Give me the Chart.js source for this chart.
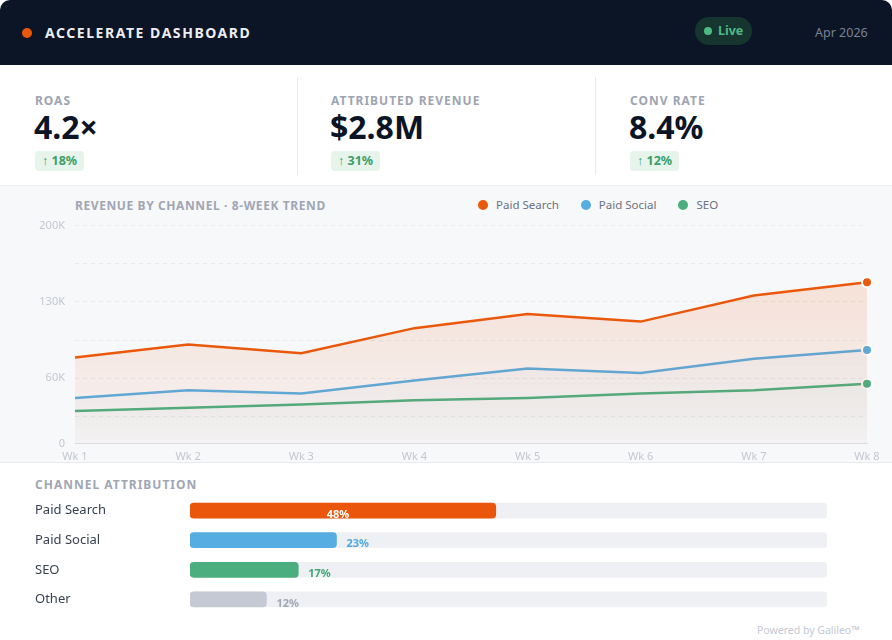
<!DOCTYPE html>
<html>
<head>
<meta charset="utf-8">
<script src="https://cdn.jsdelivr.net/npm/chart.js@4.4.1/dist/chart.umd.min.js"></script>
<style>
    html, body { margin: 0; padding: 0; background: #ffffff; }
    body { width: 892px; height: 640px; position: relative; overflow: hidden;
           font-family: 'Noto Sans', 'Open Sans', sans-serif; }

    .header { position: absolute; left: 0; top: 0; width: 892px; height: 65px;
              background: #0b1526; border-radius: 10px 10px 0 0; }
    .brand-dot { position: absolute; left: 22px; top: 28px; width: 10px; height: 10px;
                 border-radius: 50%; background: #ea580c; }
    .brand { position: absolute; left: 45px; top: 24px; font-size: 14px; line-height: 18px;
             font-weight: 700; letter-spacing: 1.55px; color: #eceef3; }
    .live { position: absolute; left: 695px; top: 17px; width: 57px; height: 28px;
            border-radius: 14px; background: #16352f; }
    .live-dot { position: absolute; left: 9px; top: 10px; width: 8px; height: 8px;
                border-radius: 50%; background: #4cbb85; }
    .live span { position: absolute; left: 23px; top: 5px; font-size: 12.5px; line-height: 18px;
                 font-weight: 700; color: #4cbb85; }
    .date { position: absolute; left: 815px; top: 24px; font-size: 12.5px; line-height: 18px;
            color: #7a8294; }

    .kpi { position: absolute; top: 65px; height: 120px; width: 297px; }
    .kpi .lbl { position: absolute; left: 35px; top: 28px; font-size: 12px; line-height: 16px;
                font-weight: 700; letter-spacing: 1px; color: #9ea4b1; }
    .kpi .val { position: absolute; left: 34px; top: 42px; font-size: 32px; line-height: 40px;
                font-weight: 700; color: #0b1526; }
    .kpi .badge { position: absolute; left: 35px; top: 86px; height: 20px; padding: 0 7px;
                  border-radius: 4px; background: #e6f4ec; color: #3a9f68;
                  font-size: 12.5px; line-height: 20px; font-weight: 700; }
    .divider { position: absolute; top: 77px; width: 1px; height: 98px; background: #e8eaee; }

    .trend { position: absolute; left: 0; top: 185px; width: 892px; height: 276px;
             background: #f7f8fa; border-top: 1px solid #eceef1; border-bottom: 1px solid #e8eaee; }
    .trend-title { position: absolute; left: 75px; top: 12px; font-size: 12px; line-height: 16px;
                   font-weight: 700; letter-spacing: 0.6px; color: #a0a6b3; }
    .legend { position: absolute; left: 478px; top: 11px; font-size: 11.5px; line-height: 16px;
              color: #6b7280; white-space: nowrap; }
    .legend .item { display: inline-block; margin-right: 22px; }
    .legend i { display: inline-block; width: 10px; height: 10px; border-radius: 50%;
                margin-right: 8px; vertical-align: -1px; }
    #trendWrap { position: absolute; left: 0; top: 23px; width: 892px; height: 260px; }

    .attr-title { position: absolute; left: 35px; top: 477px; font-size: 12px; line-height: 16px;
                  font-weight: 700; letter-spacing: 1px; color: #a0a6b3; }
    #attrWrap { position: absolute; left: 0; top: 488px; width: 892px; height: 134px; }
    .powered { position: absolute; left: 757px; top: 623px; font-size: 10.5px; line-height: 14px;
               color: #c4c8d2; }
</style>
</head>
<body>

<div class="header">
    <div class="brand-dot"></div>
    <div class="brand">ACCELERATE DASHBOARD</div>
    <div class="live"><div class="live-dot"></div><span>Live</span></div>
    <div class="date">Apr 2026</div>
</div>

<div class="kpi" style="left:0"><div class="lbl">ROAS</div><div class="val">4.2×</div><div class="badge">↑ 18%</div></div>
<div class="divider" style="left:297px"></div>
<div class="kpi" style="left:296px"><div class="lbl">ATTRIBUTED REVENUE</div><div class="val">$2.8M</div><div class="badge">↑ 31%</div></div>
<div class="divider" style="left:595px"></div>
<div class="kpi" style="left:595px"><div class="lbl">CONV RATE</div><div class="val">8.4%</div><div class="badge">↑ 12%</div></div>

<div class="trend">
    <div class="trend-title">REVENUE BY CHANNEL · 8-WEEK TREND</div>
    <div class="legend" id="legend"></div>
    <div id="trendWrap"><canvas id="trendChart"></canvas></div>
</div>

<div class="attr-title">CHANNEL ATTRIBUTION</div>
<div id="attrWrap"><canvas id="attrChart"></canvas></div>
<div class="powered">Powered by Galileo™</div>

<script>

// DATA

var weeks = ['Wk 1', 'Wk 2', 'Wk 3', 'Wk 4', 'Wk 5', 'Wk 6', 'Wk 7', 'Wk 8'];

var seriesNames = ['Paid Search', 'Paid Social', 'SEO'];
var paidSearch = [79000, 91000, 83000, 106000, 119000, 112000, 136000, 148000];
var paidSocial = [42000, 49000, 46000, 58000, 69000, 65000, 78000, 86000];
var seo        = [30000, 33000, 36000, 40000, 42000, 46000, 49000, 55000];

var yTicks      = [0, 25000, 60000, 95000, 130000, 165000, 200000];
var yTickLabels = ['0', '', '60K', '', '130K', '', '200K'];

var channels = ['Paid Search', 'Paid Social', 'SEO', 'Other'];
var shares   = [48, 23, 17, 12];


Chart.defaults.font.family = "'Noto Sans', 'Open Sans', sans-serif";

var lineColors = ['#ea580c', '#56ade2', '#4aae7f'];
var barColors  = ['#ea560b', '#56ade2', '#4aae7f', '#c5c9d4'];
var pctColors  = ['#ffffff', '#4fa9e0', '#3fa874', '#a3a8b5'];



// REVENUE TREND

function fade(hex, a0, a1) {
    return function(context) {
        var area = context.chart.chartArea;
        if (!area) return 'transparent';
        var r = parseInt(hex.slice(1, 3), 16), g = parseInt(hex.slice(3, 5), 16), b = parseInt(hex.slice(5, 7), 16);
        var grad = context.chart.ctx.createLinearGradient(0, area.top, 0, area.bottom);
        grad.addColorStop(0, 'rgba(' + r + ',' + g + ',' + b + ',' + a0 + ')');
        grad.addColorStop(1, 'rgba(' + r + ',' + g + ',' + b + ',' + a1 + ')');
        return grad;
    };
}

function lastPointOnly(context) {
    return context.dataIndex === context.dataset.data.length - 1 ? 5 : 0;
}

var seriesData = [paidSearch, paidSocial, seo];
var fills = [[0.18, 0.03], [0.10, 0.02], [0.12, 0.0]];

var trendSets = seriesData.map(function(d, i) {
    return {
        label: seriesNames[i],
        data: d,
        borderColor: lineColors[i],
        backgroundColor: fade(lineColors[i], fills[i][0], fills[i][1]),
        fill: 'origin',
        borderWidth: 2.5,
        tension: 0,
        pointRadius: lastPointOnly,
        pointHoverRadius: lastPointOnly,
        pointBackgroundColor: lineColors[i],
        pointBorderColor: '#ffffff',
        pointBorderWidth: 2,
    };
});

var legendEl = document.getElementById('legend');
legendEl.innerHTML = seriesNames.map(function(n, i) {
    return '<span class="item"><i style="background:' + lineColors[i] + '"></i>' + n + '</span>';
}).join('');

var trend_chart = new Chart(document.getElementById('trendChart').getContext('2d'), {
    type: 'line',
    data: { labels: weeks, datasets: trendSets },
    options: {
        responsive: true,
        maintainAspectRatio: false,
        animation: false,
        layout: { padding: { top: 7, right: 25, left: 0, bottom: 0 } },
        scales: {
            x: {
                grid: { display: false, drawTicks: false },
                border: { display: true, color: '#dcdfe5', width: 1 },
                ticks: { color: '#c3c7d1', font: { size: 11 }, padding: 6, maxRotation: 0 },
            },
            y: {
                min: 0,
                max: 200000,
                afterBuildTicks: function(axis) {
                    axis.ticks = yTicks.map(function(v) { return { value: v }; });
                },
                afterFit: function(axis) { axis.width = 75; },
                grid: { color: '#e7e9ed', drawTicks: false },
                border: { display: false, dash: [4, 4] },
                ticks: {
                    color: '#c3c7d1',
                    font: { size: 11 },
                    padding: 10,
                    callback: function(value, index) { return yTickLabels[index]; },
                },
            },
        },
        plugins: {
            legend: { display: false },
            tooltip: { enabled: false },
        },
    },
});



// CHANNEL ATTRIBUTION

var pctLabels = {
    id: 'pctLabels',
    afterDatasetsDraw: function(chart) {
        var ctx = chart.ctx;
        var meta = chart.getDatasetMeta(1);
        ctx.save();
        ctx.font = "bold 11px 'Noto Sans', sans-serif";
        ctx.textBaseline = 'middle';
        meta.data.forEach(function(bar, i) {
            var txt = shares[i] + '%';
            ctx.fillStyle = pctColors[i];
            if (shares[i] > 30) {
                ctx.textAlign = 'center';
                ctx.fillText(txt, (bar.base + bar.x) / 2 - 5, bar.y + 4);
            } else {
                ctx.textAlign = 'left';
                ctx.fillText(txt, bar.x + 10, bar.y + 4);
            }
        });
        ctx.restore();
    },
};

var attr_chart = new Chart(document.getElementById('attrChart').getContext('2d'), {
    type: 'bar',
    data: {
        labels: channels,
        datasets: [
            {
                data: channels.map(function() { return 100; }),
                backgroundColor: '#eff0f4',
                barThickness: 15,
                borderRadius: 4,
                borderSkipped: false,
                grouped: false,
                order: 2,
            },
            {
                data: shares,
                backgroundColor: barColors,
                barThickness: 15,
                borderRadius: 4,
                borderSkipped: false,
                grouped: false,
                order: 1,
            },
        ],
    },
    options: {
        indexAxis: 'y',
        responsive: true,
        maintainAspectRatio: false,
        animation: false,
        layout: { padding: { left: 35, right: 65, top: 0, bottom: 0 } },
        scales: {
            x: { display: false, min: 0, max: 100 },
            y: {
                grid: { display: false, drawTicks: false },
                border: { display: false },
                afterFit: function(axis) { axis.width = 155; },
                ticks: { crossAlign: 'far', color: '#374151', font: { size: 13 }, padding: 0 },
            },
        },
        plugins: {
            legend: { display: false },
            tooltip: { enabled: false },
        },
    },
    plugins: [pctLabels],
});

</script>
</body>
</html>
